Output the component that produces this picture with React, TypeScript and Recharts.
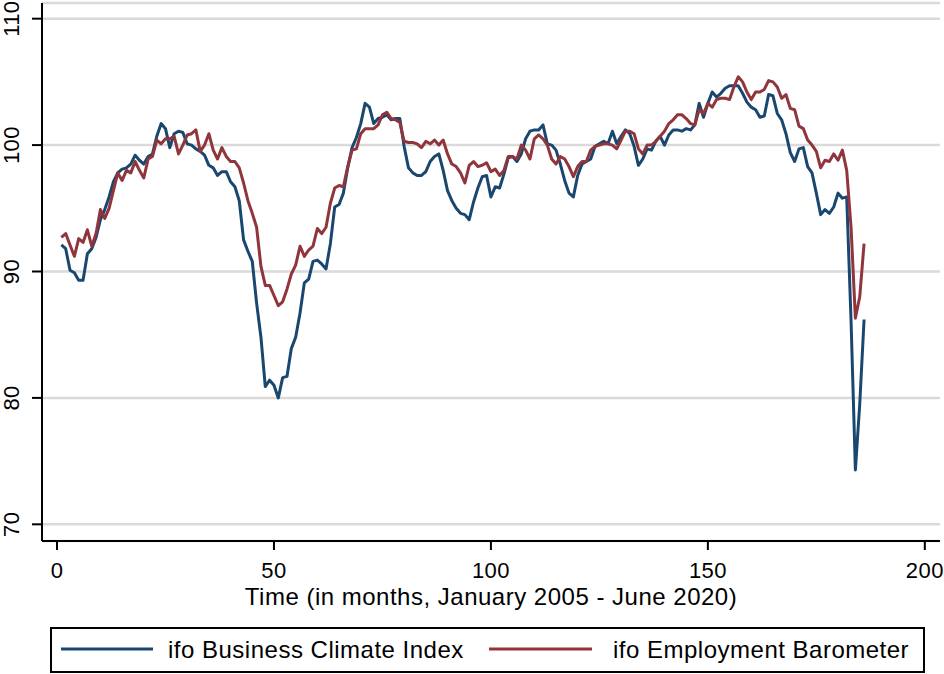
import React from 'react';
import { LineChart, Line, XAxis, YAxis, CartesianGrid, Label } from 'recharts';

const months: number[] = Array.from({ length: 186 }, (_, i) => i + 1);

const businessClimate: number[] = [
  92.1, 91.8, 90.1, 89.9, 89.3, 89.3, 91.4, 91.8, 92.7, 94.1,
  94.9, 95.9, 97.1, 97.8, 98.1, 98.2, 98.5, 99.2, 98.8, 98.5,
  99.1, 99.3, 100.7, 101.7, 101.3, 99.8, 100.9, 101.1, 101.0, 100.1,
  100.0, 99.7, 99.5, 99.2, 98.4, 98.2, 97.6, 97.9, 97.9, 97.1,
  96.7, 95.6, 92.5, 91.6, 90.8, 87.5, 84.8, 80.9, 81.4, 81.0,
  80.0, 81.6, 81.7, 83.9, 84.8, 86.7, 89.1, 89.4, 90.8, 90.9,
  90.6, 90.2, 92.2, 95.1, 95.3, 96.2, 98.2, 99.8, 100.6, 101.7,
  103.3, 103.0, 101.7, 102.1, 102.2, 102.4, 102.0, 102.1, 102.1, 99.9,
  98.2, 97.8, 97.6, 97.6, 97.9, 98.7, 99.1, 99.3, 98.0, 96.4,
  95.6, 95.0, 94.6, 94.5, 94.1, 95.5, 96.6, 97.5, 97.6, 95.9,
  96.7, 96.6, 97.7, 99.0, 99.1, 98.7, 99.3, 100.5, 101.1, 101.2,
  101.2, 101.6, 100.1, 100.0, 99.6, 98.5, 97.2, 96.2, 95.9, 97.6,
  98.5, 98.7, 98.9, 99.9, 100.1, 100.3, 100.1, 101.1, 100.1, 100.7,
  101.2, 100.9, 99.9, 98.4, 98.9, 99.7, 99.6, 100.3, 100.7, 100.0,
  100.8, 101.2, 101.2, 101.1, 101.3, 101.2, 101.6, 103.3, 102.2, 103.3,
  104.2, 103.8, 104.1, 104.5, 104.7, 104.7, 104.7, 104.1, 103.4, 103.0,
  102.8, 102.2, 102.3, 104.0, 103.9, 102.5, 102.0, 100.9, 99.4, 98.7,
  99.7, 99.8, 98.3, 97.8, 96.2, 94.5, 94.9, 94.6, 95.1, 96.2,
  95.8, 95.9, 86.1, 74.3, 79.5, 86.2,
];

const employmentBarometer: number[] = [
  92.7, 93.0, 92.1, 91.2, 92.6, 92.3, 93.3, 92.0, 93.0, 94.9,
  94.2, 95.0, 96.4, 97.8, 97.2, 98.0, 97.8, 98.7, 98.0, 97.4,
  98.9, 99.1, 100.4, 100.1, 100.5, 100.5, 100.7, 99.3, 100.0, 100.8,
  100.9, 101.2, 99.5, 100.0, 100.9, 99.6, 98.9, 99.8, 99.1, 98.7,
  98.7, 98.2, 97.0, 95.6, 94.6, 93.5, 90.4, 88.9, 88.9, 88.1,
  87.3, 87.6, 88.6, 89.8, 90.5, 92.0, 91.2, 91.7, 92.0, 93.4,
  93.0, 93.5, 95.4, 96.6, 96.8, 96.7, 98.3, 99.6, 99.7, 100.9,
  101.3, 101.3, 101.3, 101.6, 102.4, 102.6, 102.1, 102.0, 101.8, 100.3,
  100.2, 100.2, 100.1, 99.8, 100.3, 100.1, 100.4, 100.0, 100.4, 99.3,
  98.5, 98.3, 97.8, 97.0, 98.4, 98.7, 98.3, 98.4, 98.6, 97.9,
  98.1, 97.6, 98.0, 99.1, 99.1, 98.9, 100.0, 99.6, 98.9, 100.5,
  100.8, 100.5, 100.0, 98.9, 98.5, 99.1, 98.9, 98.3, 97.5, 98.3,
  98.7, 98.7, 99.6, 99.9, 100.0, 100.1, 100.1, 100.0, 99.7, 100.4,
  101.1, 101.1, 100.9, 99.7, 99.3, 100.0, 100.0, 100.3, 100.7, 101.1,
  101.7, 102.0, 102.4, 102.4, 102.1, 101.7, 101.6, 102.8, 102.5, 103.3,
  103.0, 103.6, 103.7, 103.7, 103.6, 104.6, 105.4, 105.0, 104.2, 103.6,
  104.2, 104.2, 104.4, 105.1, 105.0, 104.6, 103.7, 104.0, 102.9, 102.8,
  101.5, 101.3, 100.4, 100.0, 99.5, 98.2, 98.8, 98.7, 99.3, 98.8,
  99.6, 98.0, 93.5, 86.3, 88.0, 92.2,
];

const xTicks: number[] = [0, 50, 100, 150, 200];
const yTicks: number[] = [70, 80, 90, 100, 110];
const seriesNames: string[] = ['ifo Business Climate Index', 'ifo Employment Barometer'];
const seriesColors: string[] = ['#1a476f', '#90353b'];
const xTitle = 'Time (in months, January 2005 - June 2020)';

const data = months.map((m, i) => ({
  month: m,
  climate: businessClimate[i],
  employment: employmentBarometer[i],
}));

const FONT = '"Liberation Sans", Arial, Helvetica, sans-serif';

const YTick = (props: any) => {
  const { y, payload } = props;
  return (
    <text
      x={19}
      y={y}
      transform={`rotate(-90, 19, ${y})`}
      textAnchor="middle"
      fontSize={22}
      fontFamily={FONT}
      letterSpacing={0.4}
      fill="#000"
    >
      {payload.value}
    </text>
  );
};

const XTick = (props: any) => {
  const { x, payload } = props;
  return (
    <text x={x} y={578} textAnchor="middle" fontSize={22} fontFamily={FONT} letterSpacing={0.4} fill="#000">
      {payload.value}
    </text>
  );
};

export default function App() {
  return (
    <div style={{ position: 'absolute', left: 0, top: 0, width: 944, height: 674, background: '#fff' }}>
      <LineChart
        width={944}
        height={674}
        data={data}
        margin={{ top: 3, right: 4, bottom: 0, left: 0 }}
      >
        <CartesianGrid horizontal vertical={false} stroke="#dadada" strokeWidth={2.5} />
        <XAxis
          dataKey="month"
          type="number"
          domain={[-3.46, 203.5]}
          allowDataOverflow
          ticks={xTicks}
          interval={0}
          height={133}
          axisLine={{ stroke: '#000', strokeWidth: 2 }}
          tickLine={{ stroke: '#000', strokeWidth: 2 }}
          tickSize={9}
          tick={<XTick />}
        >
          <Label
            content={() => (
              <text x={491} y={604.5} textAnchor="middle" fontSize={24} fontFamily={FONT} letterSpacing={0.5} fill="#000">
                {xTitle}
              </text>
            )}
          />
        </XAxis>
        <YAxis
          type="number"
          domain={[68.68, 111.24]}
          allowDataOverflow
          ticks={yTicks}
          interval={0}
          width={42}
          axisLine={{ stroke: '#000', strokeWidth: 2 }}
          tickLine={{ stroke: '#000', strokeWidth: 2 }}
          tickSize={10}
          tick={<YTick />}
        />
        <Line
          type="linear"
          dataKey="climate"
          name={seriesNames[0]}
          stroke={seriesColors[0]}
          strokeWidth={3}
          dot={false}
          isAnimationActive={false}
          strokeLinejoin="round"
        />
        <Line
          type="linear"
          dataKey="employment"
          name={seriesNames[1]}
          stroke={seriesColors[1]}
          strokeWidth={3}
          dot={false}
          isAnimationActive={false}
          strokeLinejoin="round"
        />
      </LineChart>
      <svg
        width={944}
        height={674}
        style={{ position: 'absolute', left: 0, top: 0, pointerEvents: 'none' }}
      >
        <rect x={51} y={628} width={873} height={44} fill="none" stroke="#000" strokeWidth={2} />
        <line x1={61} y1={649} x2={153} y2={649} stroke={seriesColors[0]} strokeWidth={3} />
        <text x={168} y={657.5} fontSize={24} fontFamily={FONT} letterSpacing={0.5} fill="#000">
          {seriesNames[0]}
        </text>
        <line x1={489} y1={649} x2={592} y2={649} stroke={seriesColors[1]} strokeWidth={3} />
        <text x={613} y={657.5} fontSize={24} fontFamily={FONT} letterSpacing={0.5} fill="#000">
          {seriesNames[1]}
        </text>
      </svg>
    </div>
  );
}
